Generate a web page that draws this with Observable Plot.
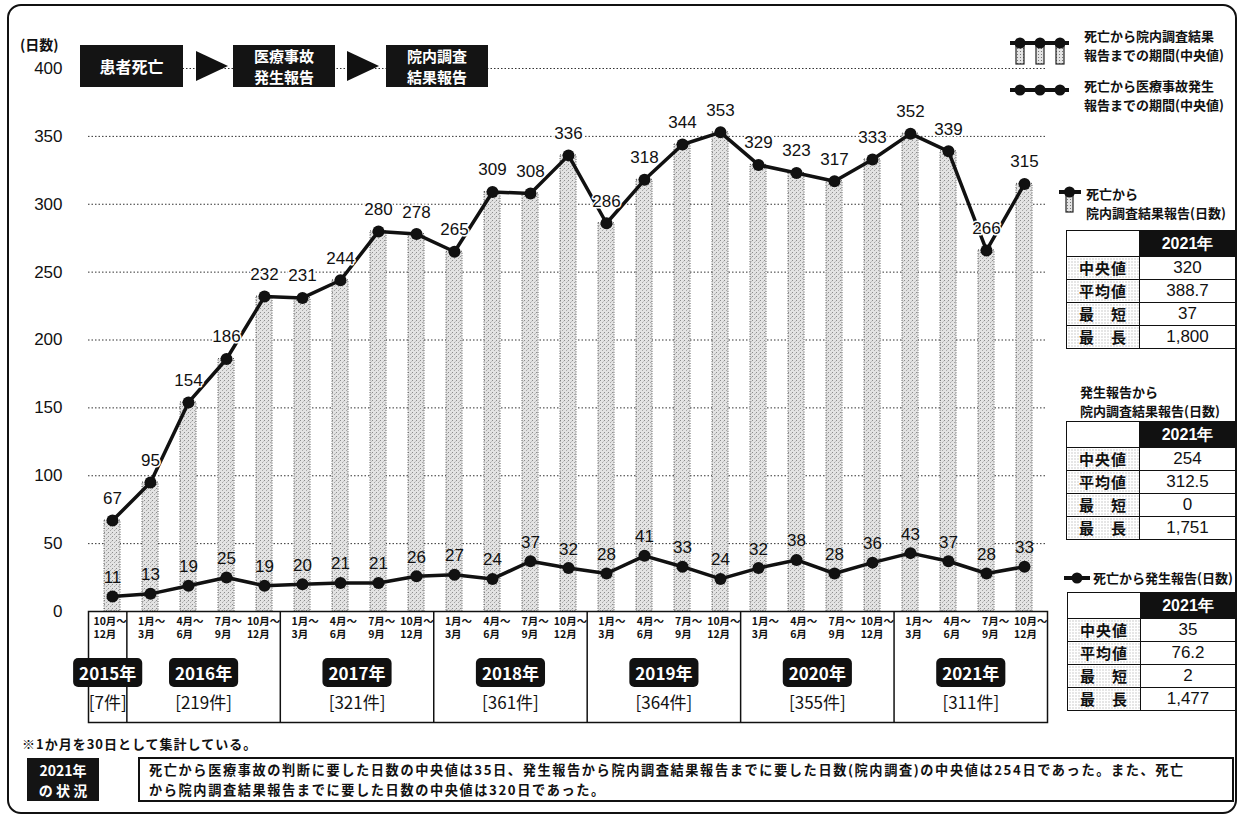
<!DOCTYPE html>
<html><head><meta charset="utf-8">
<script src="https://cdn.jsdelivr.net/npm/d3@7"></script>
<script src="https://cdn.jsdelivr.net/npm/@observablehq/plot@0.6"></script>
<style>
body{margin:0;background:#fff;}
#page{position:relative;width:1248px;height:823px;overflow:hidden;background:#fff;font-family:"Noto Sans CJK JP","Liberation Sans",sans-serif;color:#111;}
.abs{position:absolute;}
.frame{left:7px;top:4px;width:1230px;height:810px;border:2px solid #111;border-radius:14px;box-sizing:border-box;}
.jp{font-family:"Noto Sans CJK JP",sans-serif;font-weight:700;}
.box{background:#141414;color:#fff;display:flex;align-items:center;justify-content:center;text-align:center;font-family:"Noto Sans CJK JP",sans-serif;font-weight:700;font-size:15px;line-height:21px;z-index:2;}
.tri{width:0;height:0;border-top:15px solid transparent;border-bottom:15px solid transparent;border-left:32px solid #111;z-index:2;}
.leg{font-family:"Noto Sans CJK JP",sans-serif;font-weight:700;font-size:13px;line-height:19px;}
table.st{border-collapse:collapse;position:absolute;font-family:"Liberation Sans",Arial,sans-serif;}
table.st td{border:1.5px solid #111;height:22px;padding:0;text-align:center;font-size:17px;line-height:20px;}
table.st td.h{font-family:"Noto Sans CJK JP",sans-serif;font-weight:700;font-size:15px;background-color:#fff;background-image:radial-gradient(#999 0.7px,transparent 0.9px);background-size:3px 3px;letter-spacing:1px;}
table.st td.hd{background:#111;color:#fff;font-weight:700;font-size:16px;height:25px;}
table.st td.e{height:25px;}
.ttl{font-family:"Noto Sans CJK JP",sans-serif;font-weight:700;font-size:13px;line-height:19px;}
</style></head>
<body><div id="page">
<div class="abs frame"></div>
<div id="mainwrap" class="abs" style="left:0;top:0;"></div>
<div id="tablewrap" class="abs" style="left:0;top:610px;"></div>

<div class="abs jp" style="left:20px;top:34px;font-size:14px;">(日数)</div>
<div class="abs box" style="left:80px;top:45px;width:103px;height:42px;font-size:16px;">患者死亡</div>
<div class="abs tri" style="left:196px;top:51px;"></div>
<div class="abs box" style="left:233px;top:45px;width:102px;height:42px;">医療事故<br>発生報告</div>
<div class="abs tri" style="left:347px;top:51px;"></div>
<div class="abs box" style="left:386px;top:45px;width:102px;height:42px;">院内調査<br>結果報告</div>

<svg class="abs" style="left:1005px;top:30px;z-index:2;" width="70" height="75">
  <defs><pattern id="stip2" width="3" height="3" patternUnits="userSpaceOnUse"><rect width="3" height="3" fill="#e4e4e4"/><rect width="1" height="1" fill="#777"/></pattern></defs>
  <rect x="11" y="14" width="8" height="20" fill="url(#stip2)" stroke="#222" stroke-width="1.2"/>
  <rect x="31" y="14" width="8" height="20" fill="url(#stip2)" stroke="#222" stroke-width="1.2"/>
  <rect x="51" y="14" width="8" height="20" fill="url(#stip2)" stroke="#222" stroke-width="1.2"/>
  <line x1="5" y1="13" x2="64" y2="13" stroke="#111" stroke-width="4"/>
  <circle cx="15" cy="13" r="5.5" fill="#111"/><circle cx="35" cy="13" r="5.5" fill="#111"/><circle cx="55" cy="13" r="5.5" fill="#111"/>
  <line x1="5" y1="60" x2="64" y2="60" stroke="#111" stroke-width="4"/>
  <circle cx="15" cy="60" r="5.5" fill="#111"/><circle cx="35" cy="60" r="5.5" fill="#111"/><circle cx="55" cy="60" r="5.5" fill="#111"/>
</svg>
<div class="abs leg" style="left:1084px;top:26px;">死亡から院内調査結果<br>報告までの期間(中央値)</div>
<div class="abs leg" style="left:1084px;top:76px;">死亡から医療事故発生<br>報告までの期間(中央値)</div>

<svg class="abs" style="left:1058px;top:184px;" width="26" height="30">
  <rect x="8" y="8" width="7" height="20" fill="url(#stip2)" stroke="#222" stroke-width="1.2"/>
  <line x1="1" y1="8" x2="23" y2="8" stroke="#111" stroke-width="4"/>
  <circle cx="11.5" cy="8" r="5.5" fill="#111"/>
</svg>
<div class="abs ttl" style="left:1086px;top:184px;">死亡から<br>院内調査結果報告(日数)</div>
<table class="st" style="left:1066px;top:230px;width:170px;">
<tr><td class="e" style="width:72px;"></td><td class="hd">2021年</td></tr>
<tr><td class="h">中央値</td><td>320</td></tr>
<tr><td class="h">平均値</td><td>388.7</td></tr>
<tr><td class="h">最　短</td><td>37</td></tr>
<tr><td class="h">最　長</td><td>1,800</td></tr>
</table>

<div class="abs ttl" style="left:1080px;top:382px;">発生報告から<br>院内調査結果報告(日数)</div>
<table class="st" style="left:1066px;top:421px;width:170px;">
<tr><td class="e" style="width:72px;"></td><td class="hd">2021年</td></tr>
<tr><td class="h">中央値</td><td>254</td></tr>
<tr><td class="h">平均値</td><td>312.5</td></tr>
<tr><td class="h">最　短</td><td>0</td></tr>
<tr><td class="h">最　長</td><td>1,751</td></tr>
</table>

<svg class="abs" style="left:1062px;top:570px;" width="30" height="16">
  <line x1="2" y1="8" x2="28" y2="8" stroke="#111" stroke-width="4"/>
  <circle cx="15" cy="8" r="5.5" fill="#111"/>
</svg>
<div class="abs ttl" style="left:1093px;top:568px;">死亡から発生報告(日数)</div>
<table class="st" style="left:1067px;top:592px;width:169px;">
<tr><td class="e" style="width:72px;"></td><td class="hd">2021年</td></tr>
<tr><td class="h">中央値</td><td>35</td></tr>
<tr><td class="h">平均値</td><td>76.2</td></tr>
<tr><td class="h">最　短</td><td>2</td></tr>
<tr><td class="h">最　長</td><td>1,477</td></tr>
</table>

<div class="abs jp" style="left:22px;top:734px;font-size:13px;letter-spacing:1px;">※1か月を30日として集計している。</div>
<div class="abs box" style="left:27px;top:758px;width:72px;height:43px;font-size:14px;line-height:20px;">2021年<br>の 状 況</div>
<div class="abs jp" style="left:138px;top:757px;width:1096px;height:45px;box-sizing:border-box;border:2px solid #111;padding:1px 9px;font-size:13.2px;line-height:20px;letter-spacing:1.6px;white-space:nowrap;overflow:hidden;">死亡から医療事故の判断に要した日数の中央値は35日、発生報告から院内調査結果報告までに要した日数(院内調査)の中央値は254日であった。また、死亡<br>から院内調査結果報告までに要した日数の中央値は320日であった。</div>
</div>

<script>
// ---- data ----
const quarterYear = [2015, 2016,2016,2016,2016, 2017,2017,2017,2017, 2018,2018,2018,2018, 2019,2019,2019,2019, 2020,2020,2020,2020, 2021,2021,2021,2021];
const quarterLabels = ["10月～\n12月　",
  "1月～\n3月　","4月～\n6月　","7月～\n9月　","10月～\n12月　",
  "1月～\n3月　","4月～\n6月　","7月～\n9月　","10月～\n12月　",
  "1月～\n3月　","4月～\n6月　","7月～\n9月　","10月～\n12月　",
  "1月～\n3月　","4月～\n6月　","7月～\n9月　","10月～\n12月　",
  "1月～\n3月　","4月～\n6月　","7月～\n9月　","10月～\n12月　",
  "1月～\n3月　","4月～\n6月　","7月～\n9月　","10月～\n12月　"];
// 死亡から院内調査結果報告までの期間(中央値)
const deathToResult = [67, 95,154,186,232, 231,244,280,278, 265,309,308,336, 286,318,344,353, 329,323,317,333, 352,339,266,315];
// 死亡から医療事故発生報告までの期間(中央値)
const deathToReport = [11, 13,19,25,19, 20,21,21,26, 27,24,37,32, 28,41,33,24, 32,38,28,36, 43,37,28,33];
const years = [2015,2016,2017,2018,2019,2020,2021];
const yearCounts = [7,219,321,361,364,355,311];
const yTicks = [0,50,100,150,200,250,300,350,400];

// ---- derived tables ----
const rows = quarterYear.map((y,i) => ({key: y + "-" + i, year: y, label: quarterLabels[i], result: deathToResult[i], report: deathToReport[i], idx: i}));
const keys = rows.map(d => d.key);
const yearInfo = years.map((y,j) => {
  const idx = rows.filter(r => r.year === y).map(r => r.idx);
  return {year: y, count: yearCounts[j], start: d3.min(idx), end: d3.max(idx) + 1, center: (d3.min(idx) + d3.max(idx) + 1) / 2};
});

const W = 1060, ML = 88, MR = 13;
const numFont = "'Liberation Sans', Arial, sans-serif";

const main = Plot.plot({
  width: W, height: 614, marginLeft: ML, marginRight: MR, marginTop: 68, marginBottom: 3,
  x: {domain: keys, padding: 0, axis: null},
  y: {domain: [0, 400], ticks: yTicks, tickSize: 0, tickPadding: 26, label: null, tickFormat: d => String(d)},
  style: {fontFamily: numFont, fontSize: "17px", color: "#111", background: "transparent", overflow: "visible"},
  marks: [
    Plot.ruleY(yTicks.filter(d => d > 0), {stroke: "#333", strokeWidth: 1, strokeDasharray: "1.5,2"}),
    Plot.barY(rows, {x: "key", y: "result", fill: "url(#stip)", stroke: "#555", strokeWidth: 1, strokeDasharray: "1,1.5", insetLeft: 11, insetRight: 11}),
    Plot.line(rows, {x: "key", y: "result", stroke: "#111", strokeWidth: 3.5}),
    Plot.dot(rows, {x: "key", y: "result", r: 6, fill: "#111"}),
    Plot.text(rows, {x: "key", y: "result", text: d => String(d.result), dy: -22, fontSize: 17, fill: "#111", stroke: "white", strokeWidth: 3, paintOrder: "stroke"}),
    Plot.line(rows, {x: "key", y: "report", stroke: "#111", strokeWidth: 3.5}),
    Plot.dot(rows, {x: "key", y: "report", r: 6, fill: "#111"}),
    Plot.text(rows, {x: "key", y: "report", text: d => String(d.report), dy: -19, fontSize: 17, fill: "#111"})
  ]
});
// stipple pattern for bars
const defs = d3.select(main).insert("defs", ":first-child");
const pat = defs.append("pattern").attr("id", "stip").attr("width", 4).attr("height", 4).attr("patternUnits", "userSpaceOnUse");
pat.append("rect").attr("width", 4).attr("height", 4).attr("fill", "#e3e3e3");
pat.append("rect").attr("x", 0).attr("y", 0).attr("width", 1).attr("height", 1).attr("fill", "#8c8c8c");
pat.append("rect").attr("x", 2).attr("y", 2).attr("width", 1).attr("height", 1).attr("fill", "#a6a6a6");
pat.append("rect").attr("x", 3).attr("y", 1).attr("width", 1).attr("height", 1).attr("fill", "#c4c4c4");
document.getElementById("mainwrap").appendChild(main);

const table = Plot.plot({
  width: W, height: 113, marginLeft: ML, marginRight: MR, marginTop: 1, marginBottom: 1,
  x: {type: "linear", domain: [0, keys.length], axis: null},
  y: {domain: [0, 1], axis: null},
  style: {fontFamily: numFont, color: "#111", background: "transparent", overflow: "visible"},
  marks: [
    Plot.frame({stroke: "#111", strokeWidth: 1.5}),
    Plot.ruleX(yearInfo.slice(1), {x: "start", stroke: "#111", strokeWidth: 1.5}),
    Plot.text(rows, {x: d => d.idx + 1, text: "label", frameAnchor: "top", lineAnchor: "top", textAnchor: "end", dx: 0, dy: 5, fontSize: 10.5, lineHeight: 1.2, fontWeight: 700, fontFamily: "'Noto Sans CJK JP', sans-serif", fill: "#111"}),
    Plot.text(yearInfo, {x: "center", text: d => d.year + "年", frameAnchor: "top", lineAnchor: "middle", dy: 63, fontSize: 17, fontWeight: 700, fontFamily: "'Noto Sans CJK JP', sans-serif", fill: "white", className: "yearlbl"}),
    Plot.text(yearInfo, {x: "center", text: d => "[" + d.count + "件]", frameAnchor: "top", lineAnchor: "middle", dy: 92, fontSize: 17, fontFamily: "'Noto Sans CJK JP', sans-serif", fill: "#111"})
  ]
});
document.getElementById("tablewrap").appendChild(table);
d3.select(table).selectAll("g.yearlbl text").each(function() {
  const b = this.getBBox();
  const r = document.createElementNS("http://www.w3.org/2000/svg", "rect");
  r.setAttribute("x", b.x - 6); r.setAttribute("y", b.y - 2);
  r.setAttribute("width", b.width + 12); r.setAttribute("height", b.height + 4);
  r.setAttribute("rx", 5); r.setAttribute("fill", "#111");
  const t = this.getAttribute("transform"); if (t) r.setAttribute("transform", t);
  this.parentNode.insertBefore(r, this);
});
</script>
</body></html>
